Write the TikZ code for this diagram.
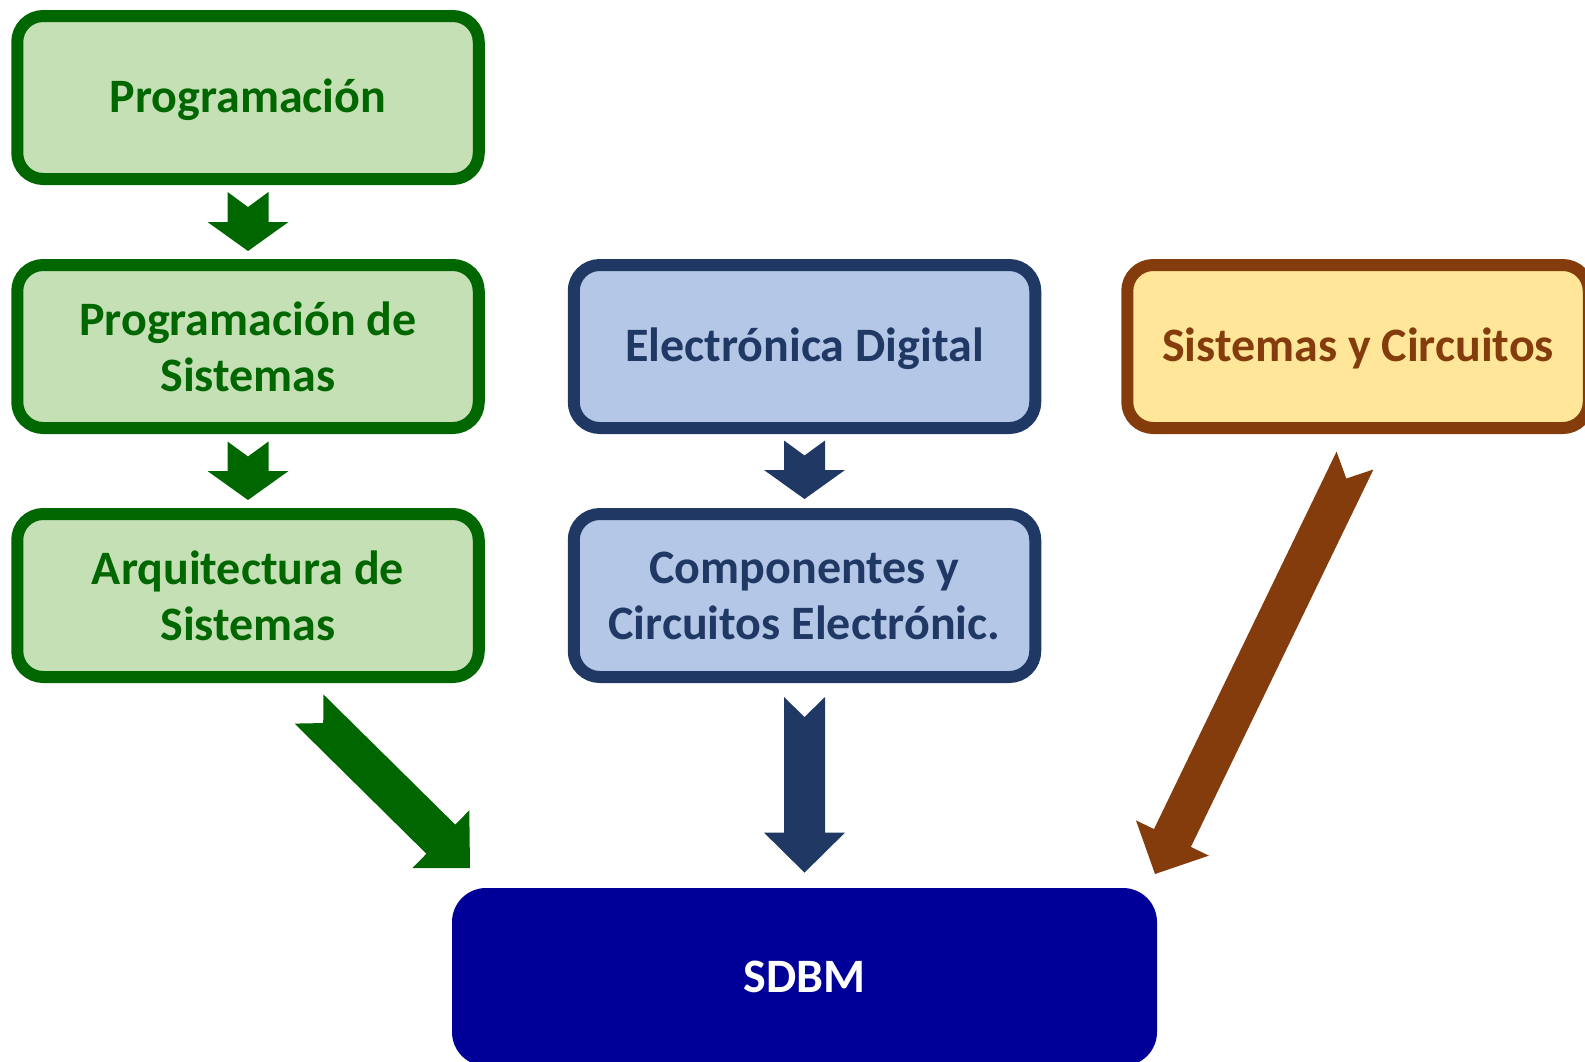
\documentclass[tikz,border=0pt]{standalone}
\usepackage{fontspec}
\setmainfont{Carlito}
\usetikzlibrary{calc}

\definecolor{darkgreen}{HTML}{006600}
\definecolor{lightgreen}{HTML}{C5E0B4}
\definecolor{darkblue}{HTML}{203864}
\definecolor{lightblue}{HTML}{B4C7E7}
\definecolor{darkbrown}{HTML}{843C0C}
\definecolor{lightyellow}{HTML}{FFE699}
\definecolor{sdbmblue}{HTML}{000099}

% block arrow with a notched tail: colour, tail, tip, head length, notch depth
\newcommand{\blockarrow}[5]{%
  \path ($(#3)!#4!(#2)$) coordinate (neck);
  \fill[#1] ($(#2)!10.25pt!90:(#3)$) -- ($(#2)!#5!(#3)$) -- ($(#2)!10.25pt!-90:(#3)$)
    -- ($(neck)!10.25pt!-90:(#3)$) -- ($(neck)!20.25pt!-90:(#3)$) -- (#3)
    -- ($(neck)!20.25pt!90:(#3)$) -- ($(neck)!10.25pt!90:(#3)$) -- cycle;
}

\begin{document}
\begin{tikzpicture}[x=0.5pt, y=-0.5pt,
    course/.style={rounded corners=13pt, line width=6pt, minimum width=230.75pt,
      minimum height=81.5pt, inner sep=0pt, align=center,
      font=\fontsize{24}{28}\selectfont\bfseries},
    one_line/.style={text height=19.4pt, text depth=4.6pt},
    green_box/.style={course, draw=darkgreen, fill=lightgreen, text=darkgreen},
    blue_box/.style={course, draw=darkblue, fill=lightblue, text=darkblue},
    yellow_box/.style={course, draw=darkbrown, fill=lightyellow, text=darkbrown},
    sdbm_box/.style={fill=sdbmblue, rounded corners=17pt, minimum width=352.5pt,
      minimum height=89pt, inner sep=0pt, text=white,
      font=\fontsize{24}{28}\selectfont\bfseries}
]

\useasboundingbox (0,0) rectangle (1585,1061);
\clip (0,0) rectangle (1585,1061);

% Left column
\node[green_box, one_line] (prog) at (248,97.5) {Programación};
\node[green_box] (progsis) at (248,346.5) {Programación de\\Sistemas};
\node[green_box] (arq) at (248,595.5) {Arquitectura de\\Sistemas};

% Middle column
\node[blue_box, one_line] (elec) at (804.5,346.5) {Electrónica Digital};
\node[blue_box] (comp) at (804.5,595.5) {Componentes y\\Circuitos Electrónic.};

% Right column
\node[yellow_box, one_line] (circ) at (1358,346.5) {Sistemas y Circuitos};

% Target
\node[sdbm_box] (sdbm) at (804.5,977) {SDBM};

% Arrow ends
\coordinate (t1) at ($(prog.south)+(0,7)$);
\coordinate (p1) at ($(progsis.north)+(0,-8)$);
\coordinate (t2) at ($(progsis.south)+(0,7.5)$);
\coordinate (p2) at ($(arq.north)+(0,-8)$);
\coordinate (t3) at ($(elec.south)+(0,6.5)$);
\coordinate (p3) at ($(comp.north)+(0,-9)$);
\coordinate (t4) at ($(comp.south)+(0,14)$);
\coordinate (p4) at ($(sdbm.north)+(0,-15)$);
\coordinate (t5) at (309,709);
\coordinate (p5) at (470,868);
\coordinate (t6) at (1355,460.5);
\coordinate (p6) at (1155,874);

% Draw the arrows
\blockarrow{darkgreen}{t1}{p1}{14.5pt}{7.5pt}
\blockarrow{darkgreen}{t2}{p2}{14.5pt}{7.5pt}
\blockarrow{darkblue}{t3}{p3}{14.5pt}{7.5pt}
\blockarrow{darkblue}{t4}{p4}{20pt}{10pt}
\blockarrow{darkgreen}{t5}{p5}{20.5pt}{10pt}
\blockarrow{darkbrown}{t6}{p6}{20pt}{10pt}

\end{tikzpicture}
\end{document}
